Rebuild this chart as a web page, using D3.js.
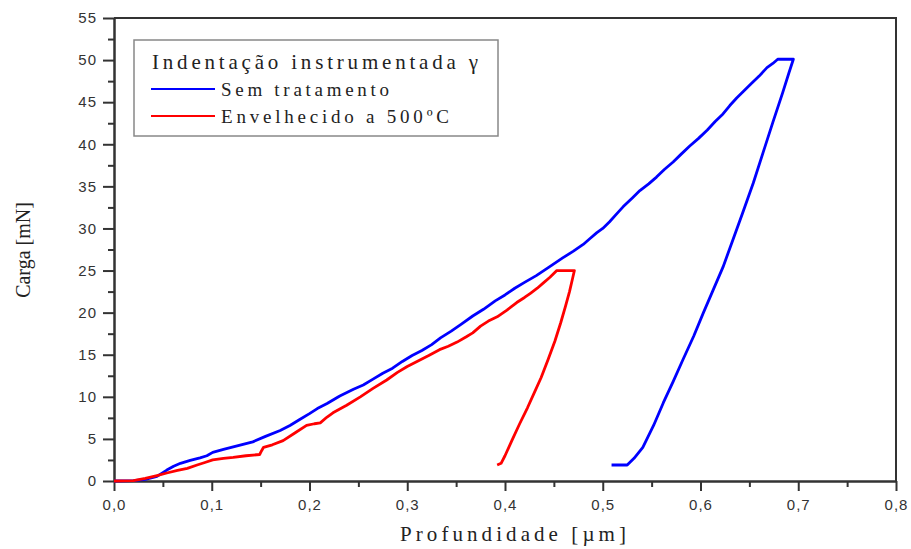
<!DOCTYPE html>
<html>
<head>
<meta charset="utf-8">
<script src="https://cdn.jsdelivr.net/npm/d3@7"></script>
<style>
  html, body { margin: 0; padding: 0; background: #fff; }
  svg { display: block; }
  .tick text { font-family: "Liberation Sans", Arial, sans-serif; font-size: 15px; fill: #333; }
  .axis path, .axis line { stroke: #333; stroke-width: 2; }
</style>
</head>
<body>
<svg id="chart" width="911" height="549"></svg>
<script>
// Indentation curves: depth [µm], load [mN]; loading branch followed by unloading branch
const semTratamento = [
  [0,0],[0.02,0.05],[0.032,0.2],[0.044,0.55],[0.05,1.0],[0.054,1.3],[0.061,1.75],[0.068,2.1],
  [0.078,2.45],[0.088,2.75],[0.095,3.0],[0.101,3.4],[0.112,3.75],[0.122,4.05],[0.132,4.35],
  [0.142,4.65],[0.155,5.3],[0.17,6.0],[0.18,6.6],[0.19,7.3],[0.2,8.0],[0.208,8.6],[0.218,9.2],
  [0.231,10.1],[0.245,10.9],[0.255,11.4],[0.265,12.1],[0.275,12.8],[0.285,13.4],[0.295,14.2],
  [0.305,14.9],[0.315,15.5],[0.325,16.2],[0.334,17.0],[0.345,17.8],[0.355,18.6],[0.367,19.6],
  [0.378,20.4],[0.39,21.4],[0.4,22.1],[0.41,22.9],[0.42,23.6],[0.432,24.4],[0.445,25.4],
  [0.459,26.5],[0.47,27.3],[0.48,28.1],[0.487,28.8],[0.494,29.5],[0.5,30.0],[0.507,30.8],
  [0.514,31.7],[0.521,32.6],[0.53,33.6],[0.538,34.5],[0.547,35.3],[0.555,36.1],[0.563,37.0],
  [0.572,37.9],[0.58,38.8],[0.589,39.8],[0.598,40.7],[0.607,41.7],[0.615,42.7],[0.623,43.6],
  [0.63,44.6],[0.637,45.5],[0.644,46.3],[0.651,47.1],[0.66,48.1],[0.668,49.1],[0.674,49.6],
  [0.679,50.1],[0.695,50.1],
  [0.6905,48.5],[0.684,46.1],[0.674,42.6],[0.664,39.0],[0.654,35.4],[0.643,31.8],[0.633,28.6],
  [0.623,25.4],[0.613,22.7],[0.603,20.0],[0.593,17.2],[0.582,14.4],[0.572,11.8],[0.562,9.3],
  [0.552,6.6],[0.541,4.0],[0.532,2.7],[0.525,1.9],[0.509,1.9]
];

const envelhecido = [
  [0,0],[0.02,0.05],[0.032,0.3],[0.044,0.65],[0.054,0.95],[0.065,1.25],[0.075,1.5],[0.085,1.9],
  [0.093,2.2],[0.101,2.5],[0.112,2.7],[0.122,2.8],[0.135,3.0],[0.149,3.15],[0.151,3.6],
  [0.153,4.0],[0.162,4.3],[0.173,4.8],[0.185,5.7],[0.197,6.6],[0.205,6.8],[0.211,6.9],
  [0.218,7.6],[0.224,8.1],[0.238,9.0],[0.252,10.0],[0.265,11.0],[0.279,12.0],[0.29,12.9],
  [0.3,13.6],[0.31,14.2],[0.322,14.9],[0.333,15.6],[0.342,16.0],[0.351,16.5],[0.36,17.1],
  [0.367,17.6],[0.375,18.4],[0.383,19.0],[0.392,19.5],[0.402,20.3],[0.412,21.2],[0.42,21.8],
  [0.426,22.3],[0.433,22.9],[0.439,23.5],[0.446,24.2],[0.453,25.0],[0.471,25.0],
  [0.469,24.0],[0.466,22.5],[0.462,20.8],[0.457,18.8],[0.451,16.6],[0.444,14.4],[0.437,12.3],
  [0.43,10.5],[0.423,8.7],[0.415,6.8],[0.407,4.8],[0.4,3.0],[0.396,2.1],[0.392,1.9]
];

const seriesNames = ["Sem tratamento", "Envelhecido a 500ºC"];
const seriesColors = ["#0000ff", "#ff0000"];
const xTicks = [0, 0.1, 0.2, 0.3, 0.4, 0.5, 0.6, 0.7, 0.8];
const yTicks = [0, 5, 10, 15, 20, 25, 30, 35, 40, 45, 50, 55];
const legendTitle = "Indentação instrumentada γ";
const xTitle = "Profundidade [µm]";
const yTitle = "Carga [mN]";

const svg = d3.select("#chart");
const plotL = 114, plotR = 896, plotT = 18, plotB = 481;

const x = d3.scaleLinear().domain([0, 0.8]).range([plotL, plotR]);
const y = d3.scaleLinear().domain([0, 55]).range([plotB, plotT]);

const comma = v => d3.format(".1f")(v).replace(".", ",");

// minor ticks halfway between the major ones
const xMinor = xTicks.slice(0, -1).map(v => v + 0.05);
const yMinor = yTicks.slice(0, -1).map(v => v + 2.5);

// frame: top and right edges
svg.append("path")
  .attr("d", `M${plotL},${plotT}H${plotR}V${plotB}`)
  .attr("fill", "none").attr("stroke", "#333").attr("stroke-width", 2);

svg.append("g").attr("class", "axis")
  .attr("transform", `translate(0,${plotB})`)
  .call(d3.axisBottom(x).tickValues(xMinor).tickSize(6).tickFormat("").tickSizeOuter(0));
const gx = svg.append("g").attr("class", "axis")
  .attr("transform", `translate(0,${plotB})`)
  .call(d3.axisBottom(x).tickValues(xTicks).tickSize(10).tickPadding(5).tickFormat(comma).tickSizeOuter(0));
gx.selectAll(".tick text").attr("dy", "0.95em").attr("letter-spacing", "1px");

svg.append("g").attr("class", "axis")
  .attr("transform", `translate(${plotL},0)`)
  .call(d3.axisLeft(y).tickValues(yMinor).tickSize(6).tickFormat("").tickSizeOuter(0));
const gy = svg.append("g").attr("class", "axis")
  .attr("transform", `translate(${plotL},0)`)
  .call(d3.axisLeft(y).tickValues(yTicks).tickSize(11).tickPadding(6).tickFormat(d3.format("d")).tickSizeOuter(0));
gy.selectAll(".tick text").attr("letter-spacing", "1px");

// axis titles
svg.append("text")
  .attr("x", 513).attr("y", 541)
  .attr("text-anchor", "middle")
  .attr("font-family", "'Liberation Serif', 'Times New Roman', serif")
  .attr("font-size", 21).attr("fill", "#222")
  .attr("textLength", 226).attr("lengthAdjust", "spacing")
  .text(xTitle);

svg.append("text")
  .attr("transform", "translate(30,250) rotate(-90)")
  .attr("text-anchor", "middle")
  .attr("font-family", "'Liberation Serif', 'Times New Roman', serif")
  .attr("font-size", 20).attr("fill", "#222")
  .text(yTitle);

// curves
const line = d3.line().x(d => x(d[0])).y(d => y(d[1]));
[semTratamento, envelhecido].forEach((data, i) => {
  svg.append("path")
    .datum(data)
    .attr("d", line)
    .attr("fill", "none")
    .attr("stroke", seriesColors[i])
    .attr("stroke-width", 2.8)
    .attr("stroke-linejoin", "round");
});

// legend
const lg = svg.append("g");
lg.append("rect")
  .attr("x", 134).attr("y", 40).attr("width", 364).attr("height", 96)
  .attr("fill", "#fff").attr("stroke", "#888").attr("stroke-width", 1.5);
lg.append("text")
  .attr("x", 152).attr("y", 69)
  .attr("font-family", "'Liberation Serif', 'Times New Roman', serif")
  .attr("font-size", 21).attr("fill", "#222")
  .attr("textLength", 326).attr("lengthAdjust", "spacing")
  .text(legendTitle);
const itemY = [89, 116];
const itemLen = [168, 228];
seriesNames.forEach((name, i) => {
  lg.append("line")
    .attr("x1", 151).attr("x2", 215).attr("y1", itemY[i]).attr("y2", itemY[i])
    .attr("stroke", seriesColors[i]).attr("stroke-width", 2.2);
  lg.append("text")
    .attr("x", 221).attr("y", itemY[i] + 7)
    .attr("font-family", "'Liberation Serif', 'Times New Roman', serif")
    .attr("font-size", 19).attr("fill", "#222")
    .attr("textLength", itemLen[i]).attr("lengthAdjust", "spacing")
    .text(name);
});
</script>
</body>
</html>
